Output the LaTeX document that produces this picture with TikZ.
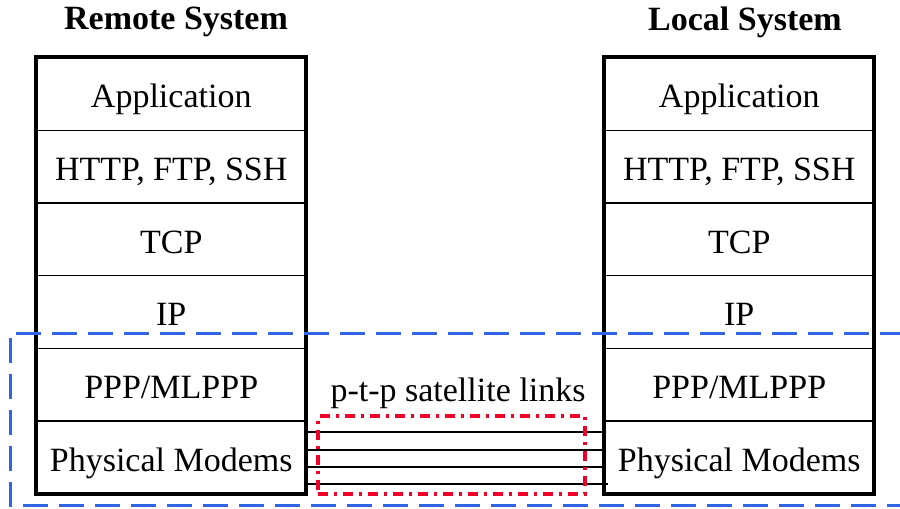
\documentclass[tikz,border=0pt]{standalone}
\usepackage{fontspec}
\setmainfont{Liberation Serif}
\begin{document}
\begin{tikzpicture}[x=0.75pt,y=-0.75pt,
  layer/.style={draw=black, line width=1.1pt, minimum width=201.75pt, minimum height=54.5pt, inner sep=0pt, text height=23pt, text depth=2.4pt, anchor=north west, font=\fontsize{25.5}{30}\selectfont},
  stackframe/.style={draw=black, line width=3pt},
  title/.style={font=\fontsize{25.5}{30}\selectfont\bfseries},
  link/.style={draw=black, line width=1.5pt},
  satbox/.style={draw={rgb,255:red,240;green,0;blue,40}, line width=2.6pt, dash pattern=on 7.5pt off 4.5pt on 2.25pt off 4.5pt, minimum width=200pt, minimum height=58.5pt, inner sep=0pt},
  bluedash/.style={draw={rgb,255:red,50;green,100;blue,230}, line width=2.25pt, dash pattern=on 18.75pt off 8.25pt}
]
\clip (0,0) rectangle (900,508);
% Remote stack
\node[layer] (r1) at (36,57) {Application};
\node[layer] (r2) at (36,129.67) {HTTP, FTP, SSH};
\node[layer] (r3) at (36,202.33) {TCP};
\node[layer] (r4) at (36,275) {IP};
\node[layer] (r5) at (36,347.67) {PPP/MLPPP};
\node[layer] (r6) at (36,420.33) {Physical Modems};
\draw[stackframe] (r1.north west) rectangle (r6.south east);
% Local stack
\node[layer] (l1) at (604,57) {Application};
\node[layer] (l2) at (604,129.67) {HTTP, FTP, SSH};
\node[layer] (l3) at (604,202.33) {TCP};
\node[layer] (l4) at (604,275) {IP};
\node[layer] (l5) at (604,347.67) {PPP/MLPPP};
\node[layer] (l6) at (604,420.33) {Physical Modems};
\draw[stackframe] (l1.north west) rectangle (l6.south east);
% Titles
\node[title] (rt) at (176,22) {Remote System};
\node[title] (lt) at (745,22) {Local System};
% Links
\draw[link] (r6.east |- 0,432) -- (l6.west |- 0,432);
\draw[link] (r6.east |- 0,450) -- (l6.west |- 0,450);
\draw[link] (r6.east |- 0,467) -- (l6.west |- 0,467);
\coordinate (lastend) at (608,484);
\draw[link] (r6.east |- 0,484) -- (lastend);
% Satellite box
\node[satbox] (sat) at (451.5,455) {};
\node[font=\fontsize{25.5}{30}\selectfont, anchor=south] (satlabel) at (458,413) {p-t-p satellite links};
% Blue dashed region
\coordinate (bstart) at (905,333);
\coordinate (bend) at (905,505);
\draw[bluedash] (bstart) -- (10,333) -- (10,505) -- (bend);
\end{tikzpicture}
\end{document}
